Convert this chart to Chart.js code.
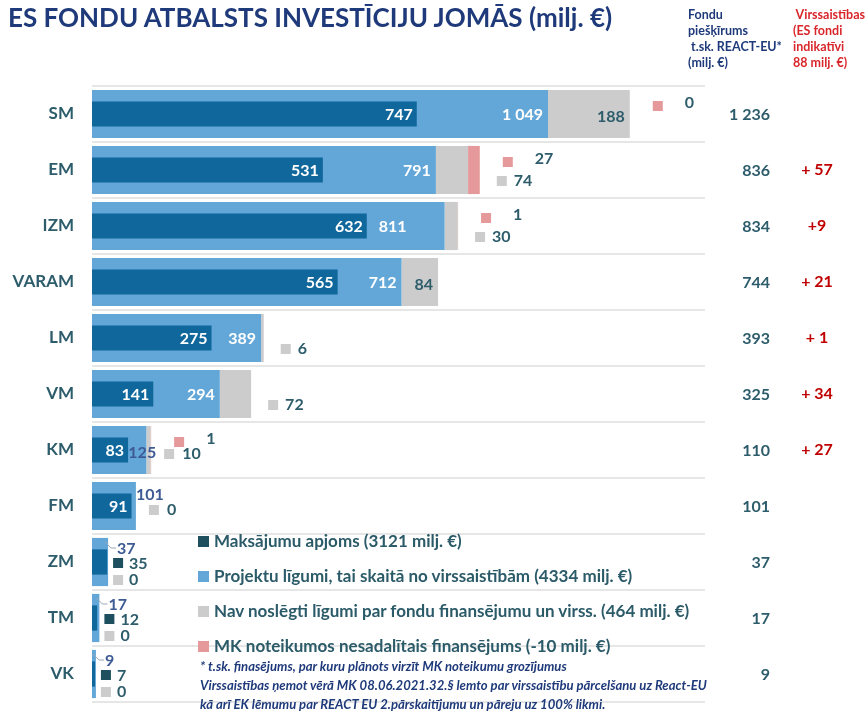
<!DOCTYPE html>
<html>
<head>
<meta charset="utf-8">
<script src="https://cdn.jsdelivr.net/npm/chart.js@4.4.1/dist/chart.umd.min.js"></script>
<style>
  body { margin: 0; background: #fff; font-family: Lato, "Open Sans", sans-serif; }
  #wrap { position: relative; width: 867px; height: 711px; overflow: hidden; }
  #chart { position: absolute; left: 0; top: 0; }
  .title { position: absolute; left: 8px; top: 1px; font: bold 26px Lato; color: #1f3a7a; white-space: nowrap; }
  .hdr { position: absolute; top: 7px; font: bold 12.5px/16px Lato; white-space: pre; }
  .legend { position: absolute; left: 198px; top: 530px; }
  .legend div { height: 35px; font: bold 17px Lato; color: #2b5a68; white-space: nowrap; }
  .legend span { display: inline-block; width: 11px; height: 11px; margin-right: 5px; }
  .note { position: absolute; left: 200px; top: 657px; font: italic bold 13.1px/19px Lato; color: #1f3a7a; white-space: nowrap; }
</style>
</head>
<body>
<div id="wrap">
  <canvas id="chart" width="867" height="711"></canvas>
  <div class="title">ES FONDU ATBALSTS INVESTĪCIJU JOMĀS (milj. €)</div>
  <div class="hdr" style="left:688px;color:#1f3a7a">Fondu
piešķīrums
 t.sk. REACT-EU*
(milj. €)</div>
  <div class="hdr" style="left:793px;color:#d9262b"> Virssaistības
(ES fondi
indikatīvi
88 milj. €)</div>
  <div class="legend" id="legend"></div>
  <div class="note">* t.sk. finasējums, par kuru plānots virzīt MK noteikumu grozījumus<br>Virssaistības ņemot vērā MK 08.06.2021.32.§ lemto par virssaistību pārcelšanu uz React-EU<br>kā arī EK lēmumu par REACT EU 2.pārskaitījumu un pāreju uz 100% likmi.</div>
</div>
<script>
// dati (milj. €)
var categories = ['SM', 'EM', 'IZM', 'VARAM', 'LM', 'VM', 'KM', 'FM', 'ZM', 'TM', 'VK'];
var payments = [747, 531, 632, 565, 275, 141, 83, 91, 35, 12, 7];
var contracts = [1049, 791, 811, 712, 389, 294, 125, 101, 37, 17, 9];
var notContracted = [188, 74, 30, 84, 6, 72, 10, 0, 0, 0, 0];
var mkUnallocated = [0, 27, 1, null, null, null, 1, null, null, null, null];
var allocation = [1236, 836, 834, 744, 393, 325, 110, 101, 37, 17, 9];
var overCommit = ['', '+ 57', '+9', '+ 21', '+ 1', '+ 34', '+ 27', '', '', '', ''];
var legendLabels = [
  'Maksājumu apjoms (3121 milj. €)',
  'Projektu līgumi, tai skaitā no virssaistībām (4334 milj. €)',
  'Nav noslēgti līgumi par fondu finansējumu un virss. (464 milj. €)',
  'MK noteikumos nesadalītais finansējums (-10 milj. €)'
];

var cDark = '#10679c', cLight = '#63a7d8', cGrey = '#cccccc', cPink = '#e6999a';
var cText = '#2d5c6b', cSlate = '#3d5a94', cRed = '#c00000';

function fmt(v) {
  return String(v).replace(/\B(?=(\d{3})+(?!\d))/g, ' ');
}

// leģenda
var legendColors = ['#1e4f5e', cLight, cGrey, cPink];
var lg = document.getElementById('legend');
legendLabels.forEach(function(t, i) {
  var d = document.createElement('div');
  d.innerHTML = '<span style="background:' + legendColors[i] + '"></span>' + t;
  lg.appendChild(d);
});

// etiķetes pie stabiņiem
var labelPlugin = {
  id: 'barLabels',
  afterDatasetsDraw: function(chart) {
    var ctx = chart.ctx;
    var xs = chart.scales.x, ys = chart.scales.y;
    ctx.save();
    ctx.font = 'bold 16px Lato';
    ctx.textBaseline = 'middle';

    function marker(color, x, y, txt, gap) {
      ctx.fillStyle = color;
      ctx.fillRect(x - 5, y - 5, 10, 10);
      ctx.fillStyle = cText;
      ctx.textAlign = 'left';
      ctx.fillText(txt, x + gap, y);
    }

    for (var i = 0; i < categories.length; i++) {
      var yc = ys.getPixelForValue(i);
      var xPay = xs.getPixelForValue(payments[i]);
      var xCon = xs.getPixelForValue(contracts[i]);
      var xGrey = xs.getPixelForValue(contracts[i] + notContracted[i]);
      var xEnd = xs.getPixelForValue(contracts[i] + notContracted[i] + (mkUnallocated[i] || 0));
      var small = contracts[i] < 50;

      // maksājumi
      if (!small) {
        ctx.fillStyle = '#fff';
        ctx.textAlign = 'right';
        ctx.fillText(fmt(payments[i]), xPay - 4, yc + 1);
      } else {
        ctx.fillStyle = '#1e4f5e';
        ctx.fillRect(xCon + 5, yc - 4, 10, 10);
        ctx.fillStyle = cText;
        ctx.textAlign = 'left';
        ctx.fillText(fmt(payments[i]), xCon + 21, yc + 2);
      }

      // līgumi
      if (contracts[i] >= 200) {
        ctx.fillStyle = '#fff';
        ctx.textAlign = 'right';
        var shift = categories[i] === 'IZM' ? 38 : 5;
        ctx.fillText(fmt(contracts[i]), xCon - shift, yc + 1);
      } else if (small) {
        ctx.strokeStyle = '#9aa9b5';
        ctx.lineWidth = 1;
        ctx.beginPath();
        ctx.moveTo(xCon - 3, yc - 20);
        ctx.lineTo(xCon + 3, yc - 14);
        ctx.lineTo(xCon + 8, yc - 14);
        ctx.stroke();
        ctx.fillStyle = cSlate;
        ctx.textAlign = 'left';
        ctx.fillText(fmt(contracts[i]), xCon + 9, yc - 13);
      } else {
        ctx.fillStyle = cSlate;
        ctx.textAlign = 'left';
        if (categories[i] === 'KM') ctx.fillText(fmt(contracts[i]), xCon - 18, yc + 3);
        else ctx.fillText(fmt(contracts[i]), xCon, yc - 11);
      }

      // nav noslēgti līgumi
      if (notContracted[i] >= 80) {
        ctx.fillStyle = cText;
        ctx.textAlign = 'right';
        ctx.fillText(fmt(notContracted[i]), xGrey - 5, yc + 3);
      } else if (small) {
        marker(cGrey, xCon + 10, yc + 18, fmt(notContracted[i]), 11);
      } else if (contracts[i] < 200) {
        marker(cGrey, xEnd + 18, yc + 4, fmt(notContracted[i]), 13);
      } else {
        marker(cGrey, xEnd + 22, yc + 11, fmt(notContracted[i]), 12);
      }

      // MK nesadalītais
      if (mkUnallocated[i] !== null) {
        ctx.fillStyle = cPink;
        ctx.fillRect(xEnd + 23, yc - 13, 10, 10);
        ctx.fillStyle = cText;
        ctx.textAlign = 'left';
        ctx.fillText(fmt(mkUnallocated[i]), xEnd + 55, yc - 11);
      }

      // labās kolonnas
      ctx.fillStyle = cText;
      ctx.textAlign = 'right';
      ctx.fillText(fmt(allocation[i]), 770, yc + 1);
      if (overCommit[i]) {
        ctx.fillStyle = cRed;
        ctx.textAlign = 'center';
        ctx.fillText(overCommit[i], 817, yc);
      }
    }
    ctx.restore();
  }
};

var ctx = document.getElementById('chart');
var myChart = new Chart(ctx, {
  type: 'bar',
  plugins: [labelPlugin],
  data: {
    labels: categories,
    datasets: [
      { label: legendLabels[0], data: payments, backgroundColor: cDark, stack: 'pay', grouped: false, barPercentage: 0.45, categoryPercentage: 1 },
      { label: legendLabels[1], data: contracts, backgroundColor: cLight, stack: 'tot', grouped: false, barPercentage: 0.86, categoryPercentage: 1 },
      { label: legendLabels[2], data: notContracted, backgroundColor: cGrey, stack: 'tot', grouped: false, barPercentage: 0.86, categoryPercentage: 1 },
      { label: legendLabels[3], data: mkUnallocated, backgroundColor: cPink, stack: 'tot', grouped: false, barPercentage: 0.86, categoryPercentage: 1 }
    ]
  },
  options: {
    indexAxis: 'y',
    responsive: false,
    animation: false,
    layout: { padding: { left: 0, top: 86, right: 162, bottom: 9 } },
    plugins: {
      legend: { display: false },
      tooltip: { enabled: false }
    },
    scales: {
      x: { stacked: true, display: false, min: 0, max: 1410 },
      y: {
        stacked: true,
        afterFit: function(scale) {
          scale.width = 92;
          scale.paddingTop = 0;
          scale.paddingBottom = 0;
        },
        border: { display: false },
        grid: { color: '#e6e6e6', lineWidth: 2, drawTicks: false, offset: true },
        ticks: { color: cText, padding: 18, font: { family: 'Lato', weight: 'bold', size: 17 } }
      }
    }
  }
});
</script>
</body>
</html>
